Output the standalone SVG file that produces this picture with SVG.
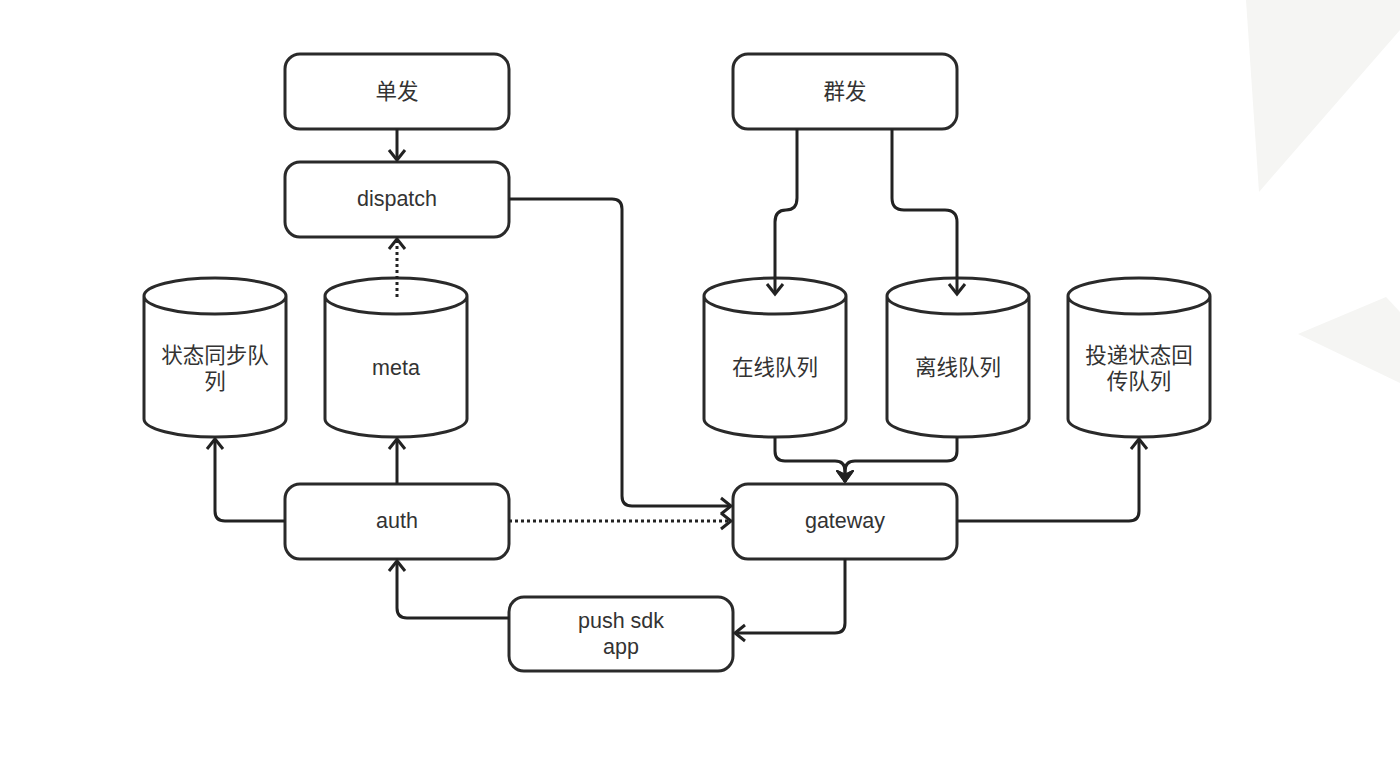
<svg xmlns="http://www.w3.org/2000/svg" width="1400" height="783" viewBox="0 0 1400 783">
<style>
.box{fill:#fff;stroke:#2a2a2a;stroke-width:3}
.cyl{fill:#fff;stroke:#2a2a2a;stroke-width:3}
.lbl{font-family:"Liberation Sans","Noto Sans CJK SC",sans-serif;font-size:21.5px;fill:#333;text-anchor:middle}
.c{fill:none;stroke:#222;stroke-width:3;stroke-linejoin:round}
.dot{stroke-dasharray:3,3}
.bg{fill:#f5f5f3}
</style>
<defs>
<marker id="arr" markerUnits="userSpaceOnUse" markerWidth="24" markerHeight="24" viewBox="-14 -12 16 24" refX="0" refY="0" orient="auto">
<path d="M-10,-8 L0,0 L-10,8" fill="none" stroke="#222" stroke-width="3"/>
</marker>
<marker id="arrf" markerUnits="userSpaceOnUse" markerWidth="24" markerHeight="24" viewBox="-14 -12 16 24" refX="0" refY="0" orient="auto">
<path d="M-11,-8 L0,0 L-11,8 L-7,0 Z" fill="#222" stroke="#222" stroke-width="2" stroke-linejoin="round"/>
</marker>
</defs>
<rect width="1400" height="783" fill="#fff"/>
<polygon class="bg" points="1246,0 1400,0 1400,30 1259,192"/>
<polygon class="bg" points="1298,334 1386,297 1400,312 1400,383"/>

<g id="node-danfa">
<rect class="box" x="285" y="54" width="224" height="75" rx="15"/>
<text class="lbl" x="397" y="99">单发</text>
</g>
<g id="node-dispatch">
<rect class="box" x="285" y="162" width="224" height="75" rx="15"/>
<text class="lbl" x="397" y="206">dispatch</text>
</g>
<g id="node-qunfa">
<rect class="box" x="733" y="54" width="224" height="75" rx="15"/>
<text class="lbl" x="845" y="99">群发</text>
</g>
<g id="node-auth">
<rect class="box" x="285" y="484" width="224" height="75" rx="15"/>
<text class="lbl" x="397" y="528">auth</text>
</g>
<g id="node-gateway">
<rect class="box" x="733" y="484" width="224" height="75" rx="15"/>
<text class="lbl" x="845" y="528">gateway</text>
</g>
<g id="node-pushsdk">
<rect class="box" x="509" y="597" width="224" height="74" rx="15"/>
<text class="lbl" x="621" y="628">push sdk</text>
<text class="lbl" x="621" y="654">app</text>
</g>

<g id="node-state-sync-queue">
<path class="cyl" d="M144,296 A71,18 0 0 1 286,296 L286,419 A71,18 0 0 1 144,419 Z M144,296 A71,18 0 0 0 286,296"/>
<text class="lbl" x="215" y="363">状态同步队</text>
<text class="lbl" x="215" y="389">列</text>
</g>
<g id="node-meta">
<path class="cyl" d="M325,296 A71,18 0 0 1 467,296 L467,419 A71,18 0 0 1 325,419 Z M325,296 A71,18 0 0 0 467,296"/>
<text class="lbl" x="396" y="375">meta</text>
</g>
<g id="node-online-queue">
<path class="cyl" d="M704,296 A71,18 0 0 1 846,296 L846,419 A71,18 0 0 1 704,419 Z M704,296 A71,18 0 0 0 846,296"/>
<text class="lbl" x="775" y="375">在线队列</text>
</g>
<g id="node-offline-queue">
<path class="cyl" d="M887,296 A71,18 0 0 1 1029,296 L1029,419 A71,18 0 0 1 887,419 Z M887,296 A71,18 0 0 0 1029,296"/>
<text class="lbl" x="958" y="375">离线队列</text>
</g>
<g id="node-delivery-status-queue">
<path class="cyl" d="M1068,296 A71,18 0 0 1 1210,296 L1210,419 A71,18 0 0 1 1068,419 Z M1068,296 A71,18 0 0 0 1210,296"/>
<text class="lbl" x="1139" y="363">投递状态回</text>
<text class="lbl" x="1139" y="389">传队列</text>
</g>

<g id="connectors">
<path class="c" d="M397,129 L397,160" marker-end="url(#arr)"/>
<path class="c dot" d="M397,297 L397,239" marker-end="url(#arr)"/>
<path class="c" d="M509,199 L612,199 Q622,199 622,209 L622,496 Q622,506 632,506 L731,506" marker-end="url(#arr)"/>
<path class="c" d="M797,129 L797,198 Q797,210 786,210 Q775,210 775,222 L775,294" marker-end="url(#arr)"/>
<path class="c" d="M892,129 L892,198 Q892,210 904,210 L945,210 Q957,210 957,222 L957,294" marker-end="url(#arr)"/>
<path class="c" d="M775,437 L775,451 Q775,461 785,461 L835,461 Q845,461 845,471 L845,482" marker-end="url(#arrf)"/>
<path class="c" d="M957,437 L957,451 Q957,461 947,461 L855,461 Q845,461 845,471 L845,482" marker-end="url(#arrf)"/>
<path class="c" d="M285,521 L225,521 Q215,521 215,511 L215,439" marker-end="url(#arr)"/>
<path class="c" d="M397,484 L397,439" marker-end="url(#arr)"/>
<path class="c dot" d="M509,521 L731,521" marker-end="url(#arr)"/>
<path class="c" d="M957,521 L1129,521 Q1139,521 1139,511 L1139,439" marker-end="url(#arr)"/>
<path class="c" d="M845,559 L845,623 Q845,633 835,633 L735,633" marker-end="url(#arr)"/>
<path class="c" d="M509,618 L407,618 Q397,618 397,608 L397,561" marker-end="url(#arr)"/>
</g>
</svg>
